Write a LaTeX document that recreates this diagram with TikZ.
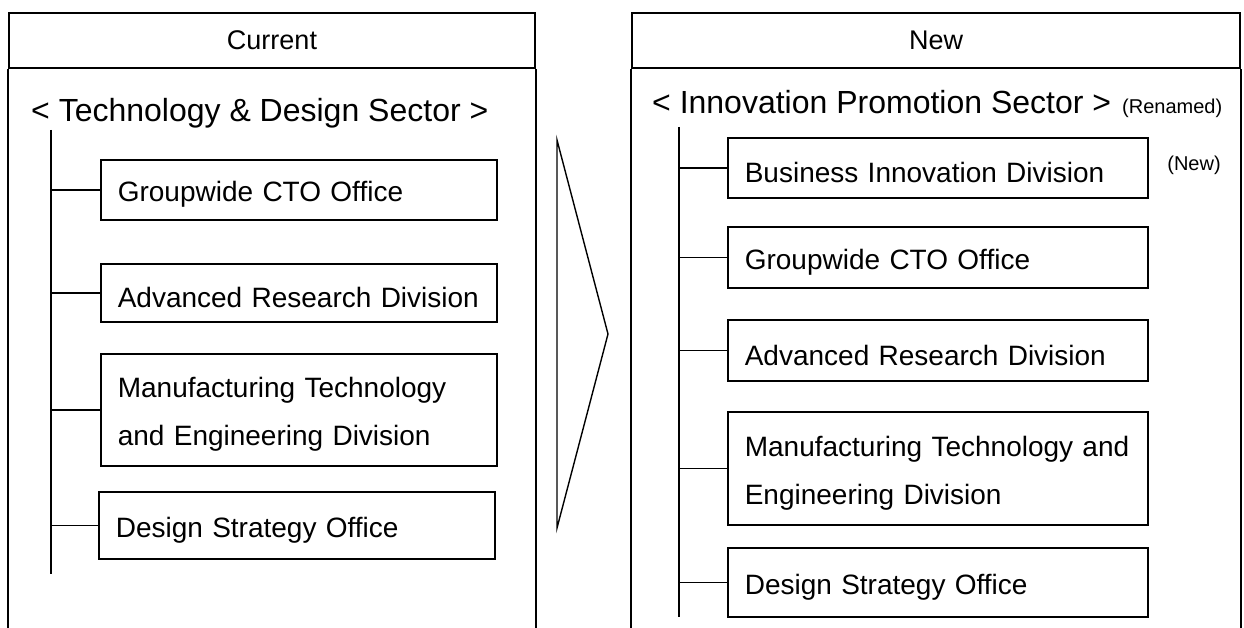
\documentclass[tikz,border=0pt]{standalone}
\usepackage{fontspec}
\setmainfont{Liberation Sans}
\begin{document}
\begin{tikzpicture}
  [x=1pt,y=-1pt,
   head/.style={rectangle,draw=black,line width=2.2pt,minimum height=55pt,inner sep=0pt,font=\fontsize{27}{32}\selectfont},
   sector/.style={anchor=base west,inner sep=0pt,font=\fontsize{32}{38}\selectfont},
   note/.style={inner sep=0pt,font=\fontsize{20}{24}\selectfont},
   unit/.style={rectangle,draw=black,line width=1.6pt,anchor=north west,inner sep=0pt,inner xsep=17pt,align=left,
     font=\fontsize{28}{48}\selectfont,execute at begin node={\rule{0pt}{30pt}}},
   lunit/.style={unit,text width=362pt},
   runit/.style={unit,text width=386pt},
   conn/.style={line width=1.5pt}]
\useasboundingbox (0,0) rectangle (1244,628); % keep page size
\coordinate (bot) at (0,628);
% current structure
\node at (272,40.5) (cur) [head, minimum width=526pt] {Current};
\draw [line width=2.2pt] (cur.south west) -- (cur.south west |- bot);
\draw [line width=2.2pt] (cur.south east) -- (cur.south east |- bot);
\node at (31,122) (lsec) [sector] {< Technology \& Design Sector >};
\coordinate (ltop) at (51,130);
\coordinate (lend) at (51,574);
\draw [conn] (ltop) -- (lend);
\node at (100,159) (lcto) [lunit, minimum height=60pt] {Groupwide CTO Office};
\node at (100,263) (lard) [lunit, minimum height=58pt] {Advanced Research Division};
\node at (100,353) (lmte) [lunit, minimum height=112pt] {Manufacturing Technology\\and Engineering Division};
\node at (98,491) (ldso) [lunit, minimum height=67pt] {Design Strategy Office};
\foreach \b in {lcto,lard,lmte,ldso}
  \draw [conn] (ltop |- \b.west) -- (\b.west);
%
\draw [line width=1.4pt] (557,140) -- (608,334) -- (557,528) -- cycle;
% new structure
\node at (936,40.5) (new) [head, minimum width=608pt] {New};
\draw [line width=2.2pt] (new.south west) -- (new.south west |- bot);
\draw [line width=2.2pt] (new.south east) -- (new.south east |- bot);
\node at (652,114) (rsec) [sector] {< Innovation Promotion Sector >};
\node at (1122,114) (ren) [note, anchor=base west] {(Renamed)};
\coordinate (rtop) at (679,127);
\coordinate (rend) at (679,617);
\draw [conn] (rtop) -- (rend);
\node at (727,137) (rbid) [runit, minimum height=60pt] {Business Innovation Division};
\node at (1194,165) (isnew) [note] {(New)};
\node at (727,226) (rcto) [runit, minimum height=61pt] {Groupwide CTO Office};
\node at (727,319) (rard) [runit, minimum height=61pt] {Advanced Research Division};
\node at (727,411) (rmte) [runit, minimum height=113pt] {Manufacturing Technology and\\Engineering Division};
\node at (727,547) (rdso) [runit, minimum height=69pt] {Design Strategy Office};
\foreach \b in {rbid,rcto,rard,rmte,rdso}
  \draw [conn] (rtop |- \b.west) -- (\b.west);
\end{tikzpicture}
\end{document}
